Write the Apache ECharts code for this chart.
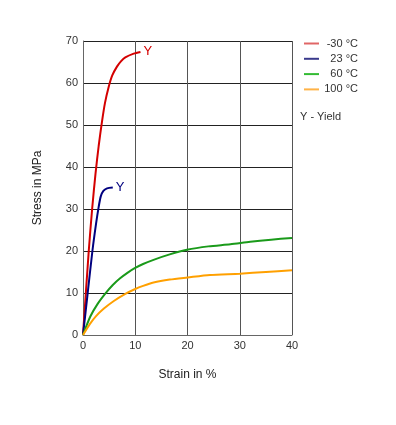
<!DOCTYPE html>
<html>
<head>
<meta charset="utf-8">
<script src="https://cdn.jsdelivr.net/npm/echarts@6/dist/echarts.min.js"></script>
<style>
  html, body { margin: 0; padding: 0; background: #fff; }
</style>
</head>
<body>
<div id="main" style="width: 396px; height: 425px"></div>
<script>
// strain in %, stress in MPa
var seriesNames = ["-30 °C", "23 °C", "60 °C", "100 °C"];
var colors = ["#d40000", "#00007f", "#1a9a1a", "#ffa000"];
var legendColors = ["#e06666", "#3a3a8c", "#33bb33", "#ffb347"];

var minus30 = [[0, 0], [1.1, 20], [1.75, 30], [2.4, 38.5], [3.0, 45], [3.6, 50.5], [4.2, 55.2], [4.9, 59], [5.6, 61.8], [6.5, 63.9], [7.3, 65.2], [8.1, 66.1], [9.7, 67], [11, 67.4]];
var t23 = [[0, 0], [0.9, 10], [1.8, 20], [2.5, 26.5], [3.0, 30.5], [3.4, 33], [3.9, 34.3], [4.6, 34.9], [5.7, 35.1]];
var t60 = [[0, 0], [1.4, 4.4], [2.8, 7.4], [4.3, 9.9], [5.7, 11.9], [7.1, 13.5], [8.5, 14.8], [9.9, 15.9], [11.5, 16.9], [13.5, 17.9], [16.6, 19.2], [19.9, 20.3], [24, 21.1], [28.2, 21.6], [32, 22.2], [36, 22.7], [40, 23.1]];
var t100 = [[0, 0], [1.3, 2.6], [2.5, 4.5], [4, 6.3], [5.9, 8.1], [8.1, 9.8], [9.9, 10.9], [11.5, 11.7], [13.5, 12.5], [16.6, 13.2], [20, 13.7], [24.3, 14.3], [30, 14.6], [35, 15.0], [40, 15.4]];
var yieldMarks = [true, true, false, false];

var allData = [minus30, t23, t60, t100];

var chart = echarts.init(document.getElementById("main"));

var series = seriesNames.map(function (name, i) {
  return {
    name: name,
    type: "line",
    data: allData[i],
    showSymbol: false,
    smooth: 0.25,
    color: legendColors[i],
    lineStyle: { color: colors[i], width: 2 },
    endLabel: {
      show: yieldMarks[i],
      formatter: "Y",
      color: colors[i],
      fontSize: 13,
      distance: 3
    }
  };
});

chart.setOption({
  animation: false,
  textStyle: { fontFamily: "Liberation Sans, Arial, sans-serif" },
  grid: { left: 83, right: 104, top: 41, bottom: 90 },
  legend: {
    orient: "vertical",
    left: 299,
    top: 33,
    itemWidth: 15,
    itemHeight: 2,
    itemGap: 4.3,
    icon: "rect",
    data: seriesNames,
    formatter: function (n) { return "{a|" + n + "}"; },
    textStyle: {
      color: "#333",
      fontSize: 11,
      rich: { a: { width: 34, height: 12, align: "right", fontSize: 11, color: "#333" } }
    }
  },
  graphic: [
    {
      type: "text",
      left: 300,
      top: 111,
      style: { text: "Y - Yield", fontSize: 11, fill: "#333", fontFamily: "Liberation Sans, Arial, sans-serif" }
    }
  ],
  xAxis: {
    type: "value",
    min: 0,
    max: 40,
    interval: 10,
    name: "Strain in %",
    nameLocation: "middle",
    nameGap: 34,
    nameTextStyle: { fontSize: 12, color: "#222" },
    axisLine: { show: true, lineStyle: { color: "#666" } },
    axisTick: { show: false },
    axisLabel: { color: "#333", fontSize: 11, margin: 5 },
    splitLine: { show: true, lineStyle: { color: "#555", width: 1 } }
  },
  yAxis: {
    type: "value",
    min: 0,
    max: 70,
    interval: 10,
    name: "Stress in MPa",
    nameLocation: "middle",
    nameGap: 39,
    nameTextStyle: { fontSize: 12, color: "#222" },
    axisLine: { show: true, lineStyle: { color: "#666" } },
    axisTick: { show: false },
    axisLabel: { color: "#333", fontSize: 11, margin: 5 },
    splitLine: { show: true, lineStyle: { color: "#222", width: 1 } }
  },
  series: series
});
</script>
</body>
</html>
